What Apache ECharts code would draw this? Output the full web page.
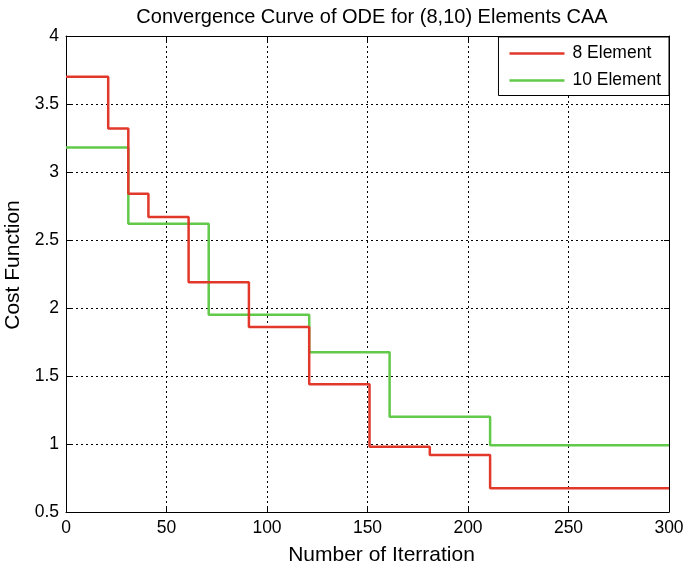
<!DOCTYPE html>
<html>
<head>
<meta charset="utf-8">
<script src="https://cdn.jsdelivr.net/npm/echarts@6/dist/echarts.min.js"></script>
<style>
  html, body { margin: 0; padding: 0; background: #fff; }
  #chart { width: 684px; height: 568px; }
</style>
</head>
<body>
<div id="chart"></div>
<script>
// Iteration at which each cost level starts, and the level held from there on
const iter8 = [0, 21, 31, 41, 61, 91, 121, 151, 181, 211, 300];
const cost8 = [3.70, 3.32, 2.84, 2.67, 2.19, 1.86, 1.44, 0.98, 0.92, 0.675, 0.675];
const iter10 = [0, 31, 71, 121, 161, 211, 300];
const cost10 = [3.18, 2.62, 1.95, 1.675, 1.20, 0.99, 0.99];

const seriesNames = ['8 Element', '10 Element'];
const xTicks = [0, 50, 100, 150, 200, 250, 300];
const yTicks = [0.5, 1, 1.5, 2, 2.5, 3, 3.5, 4];

const pairs = (xs, ys) => xs.map((x, i) => [x, ys[i]]);
const FONT = '"Liberation Sans", Arial, sans-serif';

const gridLine = { show: true, lineStyle: { color: '#000', width: 1, type: [2, 3] } };
const frameLine = { show: true, onZero: false, lineStyle: { color: '#000', width: 1 } };
const innerTick = { show: true, inside: true, length: 5, lineStyle: { color: '#000' } };

const chart = echarts.init(document.getElementById('chart'), null, { renderer: 'canvas' });
chart.setOption({
  animation: false,
  backgroundColor: '#fff',
  title: {
    text: 'Convergence Curve of ODE for (8,10) Elements CAA',
    left: 367, textAlign: 'center', top: 2,
    textStyle: { fontFamily: FONT, fontSize: 20, fontWeight: 'normal', color: '#000' }
  },
  grid: { left: 66, right: 15, top: 36, bottom: 56, outerBoundsMode: 'none' },
  legend: {
    orient: 'vertical', right: 15, top: 37,
    data: seriesNames,
    icon: 'rect', itemWidth: 55, itemHeight: 2.5, itemGap: 9,
    padding: [7.5, 8, 6, 11],
    borderColor: '#000', borderWidth: 1, backgroundColor: '#fff',
    textStyle: { fontFamily: FONT, fontSize: 17.5, color: '#000', padding: [0, 0, 0, 3] }
  },
  xAxis: [{
    type: 'value', min: 0, max: 300, interval: 50,
    name: 'Number of Iterration', nameLocation: 'middle', nameGap: 33,
    nameTextStyle: { fontFamily: FONT, fontSize: 21, color: '#000', padding: [0, 0, 0, 28] },
    axisLine: frameLine,
    axisTick: innerTick,
    axisLabel: { fontFamily: FONT, fontSize: 17.5, color: '#000', margin: 7,
      formatter: v => xTicks.includes(v) ? String(v) : '' },
    splitLine: gridLine
  }, {
    type: 'value', min: 0, max: 300, interval: 50, position: 'top',
    axisLine: frameLine, axisTick: innerTick,
    axisLabel: { show: false }, splitLine: { show: false }
  }],
  yAxis: [{
    type: 'value', min: 0.5, max: 4, interval: 0.5,
    name: 'Cost Function', nameLocation: 'middle', nameGap: 38,
    nameTextStyle: { fontFamily: FONT, fontSize: 21, color: '#000', padding: [0, 0, 0, 18] },
    axisLine: frameLine,
    axisTick: innerTick,
    axisLabel: { fontFamily: FONT, fontSize: 17.5, color: '#000', margin: 7,
      formatter: v => yTicks.includes(v) ? String(v) : '' },
    splitLine: gridLine
  }, {
    type: 'value', min: 0.5, max: 4, interval: 0.5, position: 'right',
    axisLine: frameLine, axisTick: innerTick,
    axisLabel: { show: false }, splitLine: { show: false }
  }],
  series: [{
    name: seriesNames[0], type: 'line', step: 'end', symbol: 'none',
    data: pairs(iter8, cost8), z: 3,
    itemStyle: { color: '#e2382b' },
    lineStyle: { color: '#e2382b', width: 2.5 }
  }, {
    name: seriesNames[1], type: 'line', step: 'end', symbol: 'none',
    data: pairs(iter10, cost10), z: 2,
    itemStyle: { color: '#62c94a' },
    lineStyle: { color: '#62c94a', width: 2.5 }
  }]
});
</script>
</body>
</html>
